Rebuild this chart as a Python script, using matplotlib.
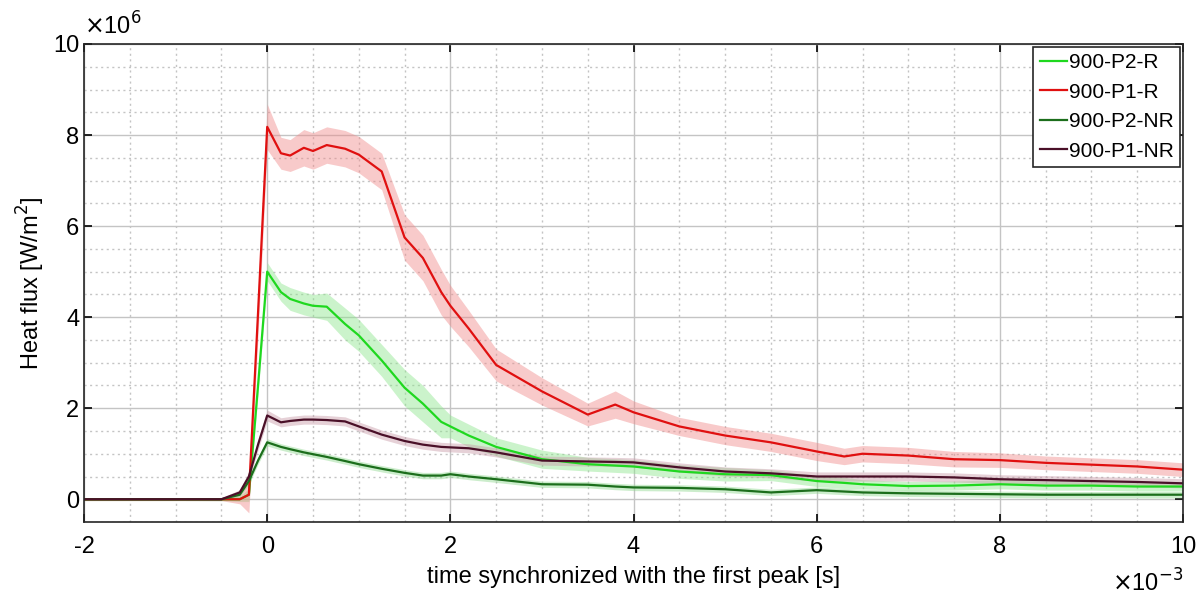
import matplotlib
matplotlib.use("Agg")
import matplotlib.pyplot as plt
from matplotlib.ticker import MultipleLocator

plt.rcParams['font.family'] = ['Liberation Sans', 'DejaVu Sans']
plt.rcParams['axes.unicode_minus'] = False

# time axis (x 1e-3 s), shared by all series
t = [-2, -0.5, -0.3, -0.2, -0.1, 0, 0.15, 0.25, 0.4, 0.5, 0.65, 0.85, 1.0,
     1.25, 1.5, 1.7, 1.9, 2.0, 2.2, 2.5, 3.0, 3.5, 3.8, 4.0, 4.5, 5.0, 5.5,
     6.0, 6.3, 6.5, 7.0, 7.5, 8.0, 8.5, 9.0, 9.5, 10.0]

# heat flux (x 1e6 W/m^2)
p2_r = [0, 0, 0, 0.1, 2.5, 5.0, 4.55, 4.4, 4.3, 4.25, 4.23, 3.85, 3.6,
        3.05, 2.45, 2.1, 1.7, 1.6, 1.4, 1.15, 0.88, 0.77, 0.74, 0.72, 0.61,
        0.55, 0.53, 0.4, 0.36, 0.33, 0.29, 0.3, 0.33, 0.3, 0.3, 0.28, 0.28]
p2_r_sd = [0.03, 0.03, 0.05, 0.15, 0.2, 0.2, 0.2, 0.25, 0.25, 0.25, 0.3, 0.35,
           0.35, 0.35, 0.4, 0.4, 0.35, 0.25, 0.25, 0.2, 0.2, 0.15, 0.15, 0.15,
           0.15, 0.15, 0.12, 0.12, 0.12, 0.1, 0.1, 0.1, 0.1, 0.1, 0.1, 0.1, 0.1]

p1_r = [0, 0, 0, 0.1, 4.1, 8.18, 7.6, 7.55, 7.72, 7.65, 7.78, 7.7, 7.57,
        7.2, 5.75, 5.3, 4.55, 4.25, 3.75, 2.95, 2.37, 1.86, 2.08, 1.91, 1.6,
        1.4, 1.25, 1.05, 0.94, 1.0, 0.96, 0.88, 0.86, 0.8, 0.76, 0.72, 0.65]
p1_r_sd = [0.03, 0.03, 0.1, 0.4, 0.5, 0.5, 0.35, 0.35, 0.4, 0.4, 0.4, 0.4,
           0.4, 0.4, 0.5, 0.5, 0.5, 0.45, 0.4, 0.35, 0.3, 0.25, 0.3, 0.25,
           0.2, 0.2, 0.2, 0.2, 0.18, 0.18, 0.18, 0.17, 0.16, 0.15, 0.15, 0.15, 0.15]

p2_nr = [0, 0, 0.1, 0.4, 0.85, 1.25, 1.15, 1.1, 1.03, 0.99, 0.93, 0.84, 0.77,
         0.67, 0.58, 0.52, 0.52, 0.55, 0.5, 0.44, 0.33, 0.32, 0.28, 0.26, 0.25,
         0.22, 0.15, 0.2, 0.17, 0.15, 0.13, 0.12, 0.11, 0.1, 0.1, 0.1, 0.1]
p2_nr_sd = [0.02, 0.03, 0.05, 0.07, 0.08, 0.08, 0.07, 0.07, 0.07, 0.07, 0.07,
            0.07, 0.07, 0.07, 0.07, 0.07, 0.07, 0.07, 0.07, 0.07, 0.07, 0.07,
            0.07, 0.07, 0.07, 0.07, 0.07, 0.07, 0.07, 0.07, 0.07, 0.07, 0.07,
            0.07, 0.07, 0.07, 0.07]

p1_nr = [0, 0, 0.15, 0.5, 1.2, 1.84, 1.69, 1.72, 1.75, 1.75, 1.74, 1.71, 1.6,
         1.42, 1.28, 1.2, 1.15, 1.14, 1.12, 1.03, 0.85, 0.83, 0.82, 0.81, 0.7,
         0.61, 0.57, 0.5, 0.5, 0.5, 0.5, 0.48, 0.44, 0.42, 0.4, 0.38, 0.35]
p1_nr_sd = [0.02, 0.03, 0.06, 0.1, 0.12, 0.12, 0.1, 0.1, 0.1, 0.1, 0.1, 0.1,
            0.1, 0.1, 0.1, 0.1, 0.1, 0.1, 0.1, 0.1, 0.1, 0.1, 0.1, 0.1, 0.1,
            0.1, 0.1, 0.1, 0.1, 0.1, 0.1, 0.1, 0.1, 0.1, 0.1, 0.1, 0.1]

series = [
    ('900-P2-R', p2_r, p2_r_sd, '#1fd81f', '#8ce68c'),
    ('900-P1-R', p1_r, p1_r_sd, '#e01010', '#f08a8a'),
    ('900-P2-NR', p2_nr, p2_nr_sd, '#1c6e1c', '#8fd88f'),
    ('900-P1-NR', p1_nr, p1_nr_sd, '#4a1028', '#c89aa8'),
]

fig = plt.figure(figsize=(12.04, 6.01), dpi=100)
ax = fig.add_axes([0.0698, 0.1314, 0.9128, 0.7954])

for name, y, sd, col, fill in series:
    lo = [a - b for a, b in zip(y, sd)]
    hi = [a + b for a, b in zip(y, sd)]
    ax.fill_between(t, lo, hi, color=fill, alpha=0.45, linewidth=0)
for name, y, sd, col, fill in series:
    ax.plot(t, y, color=col, lw=1.6, label=name)

ax.set_xlim(-2, 10)
ax.set_ylim(-0.5, 10)
ax.xaxis.set_major_locator(MultipleLocator(2))
ax.xaxis.set_minor_locator(MultipleLocator(0.5))
ax.yaxis.set_major_locator(MultipleLocator(2))
ax.yaxis.set_minor_locator(MultipleLocator(0.5))
ax.grid(True, which='major', color='#c4c4c4', lw=1.0, ls='-')
ax.grid(True, which='minor', color='#c4c4c4', lw=1.0, ls=(0, (1.5, 2.5)))
ax.set_axisbelow(True)
ax.tick_params(which='both', direction='in', top=True, right=True)
ax.tick_params(which='major', length=6, width=1.2, labelsize=17)
ax.tick_params(axis='x', which='major', pad=10)
ax.tick_params(which='minor', length=0)
for s in ax.spines.values():
    s.set_linewidth(1.2)
    s.set_color('#262626')

ax.set_xlabel('time synchronized with the first peak [s]', fontsize=17,
              labelpad=6)
ax.set_ylabel('Heat flux [W/m$^2$]', fontsize=17, labelpad=4)

ax.text(0.0, 1.01, r'$\times$10$^{6}$', transform=ax.transAxes,
        fontsize=17, ha='left', va='bottom')
ax.text(1.0, -0.1, r'$\times$10$^{-3}$', transform=ax.transAxes,
        fontsize=17, ha='right', va='top')

leg = ax.legend(loc='upper right', fontsize=15, handlelength=1.3,
                handletextpad=0.1, borderpad=0.3, labelspacing=0.5,
                fancybox=False, framealpha=1, borderaxespad=0.15)
leg.get_frame().set_edgecolor('#262626')
leg.get_frame().set_linewidth(1.2)

fig.savefig('out.png', dpi=100)
